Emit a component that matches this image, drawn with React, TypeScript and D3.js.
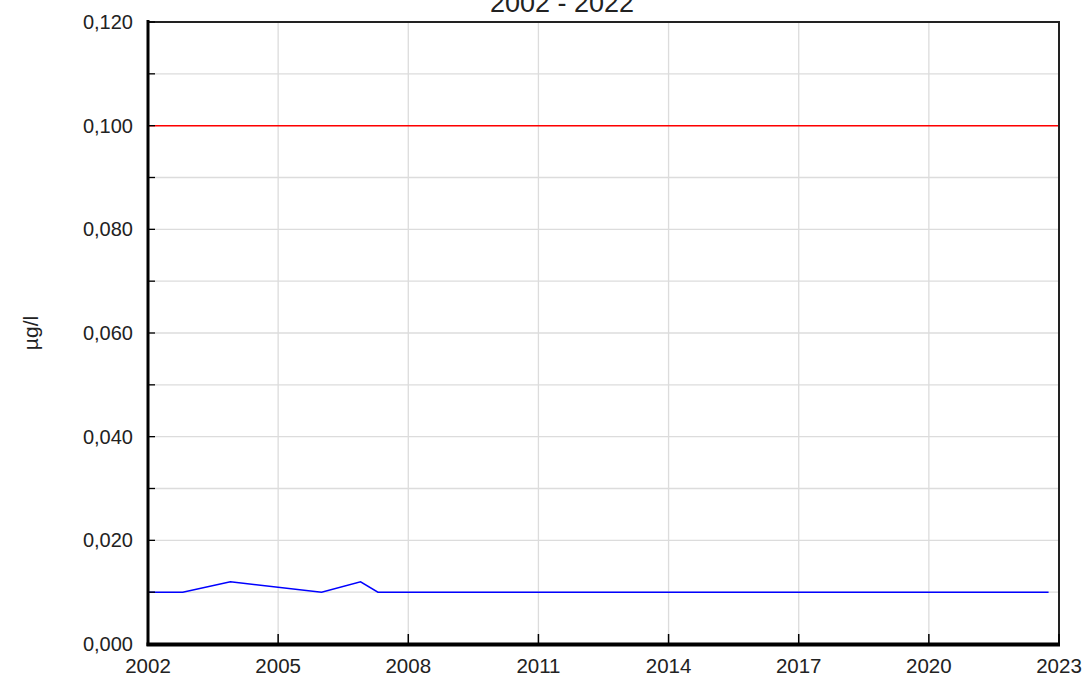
import { useEffect, useRef } from "react";
import * as d3 from "d3";

const years = [2002.0, 2002.8, 2003.9, 2006.0, 2006.9, 2007.3, 2022.76];
const values = [0.01, 0.01, 0.012, 0.01, 0.012, 0.01, 0.01];
const limitValue = 0.1;
const xTicks = [2002, 2005, 2008, 2011, 2014, 2017, 2020, 2023];
const yTicks = [0, 0.02, 0.04, 0.06, 0.08, 0.1, 0.12];
const yMinor = d3.range(0, 0.1201, 0.01);
const title = "2002 - 2022";
const yLabel = "µg/l";

export default function App() {
  const ref = useRef<SVGSVGElement>(null);

  useEffect(() => {
    if (!ref.current) return;
    const width = 1084;
    const height = 678;
    const m = { left: 148, right: 1059, top: 22, bottom: 644 };

    const svg = d3.select(ref.current);
    svg.selectAll("*").remove();

    const x = d3.scaleLinear().domain([2002, 2023]).range([m.left, m.right]);
    const y = d3.scaleLinear().domain([0, 0.12]).range([m.bottom, m.top]);
    const font = "'Liberation Sans', Arial, sans-serif";

    const g = svg.append("g");

    // grid
    g.selectAll("line.hgrid")
      .data(yMinor)
      .enter()
      .append("line")
      .attr("x1", m.left)
      .attr("x2", m.right)
      .attr("y1", (d) => y(d))
      .attr("y2", (d) => y(d))
      .attr("stroke", "#dcdcdc")
      .attr("stroke-width", 1.3);

    g.selectAll("line.vgrid")
      .data(xTicks)
      .enter()
      .append("line")
      .attr("x1", (d) => x(d))
      .attr("x2", (d) => x(d))
      .attr("y1", m.top)
      .attr("y2", m.bottom)
      .attr("stroke", "#dcdcdc")
      .attr("stroke-width", 1.3);

    // limit line
    g.append("line")
      .attr("x1", m.left)
      .attr("x2", m.right)
      .attr("y1", y(limitValue))
      .attr("y2", y(limitValue))
      .attr("stroke", "#ff0000")
      .attr("stroke-width", 1.5);

    // data line
    const line = d3
      .line<number>()
      .x((_, i) => x(years[i]))
      .y((d) => y(d));
    g.append("path")
      .datum(values)
      .attr("d", line)
      .attr("fill", "none")
      .attr("stroke", "#0000ff")
      .attr("stroke-width", 1.5);

    // frame
    g.append("line")
      .attr("x1", m.left)
      .attr("x2", m.right + 1)
      .attr("y1", m.top)
      .attr("y2", m.top)
      .attr("stroke", "#222")
      .attr("stroke-width", 2);
    g.append("line")
      .attr("x1", m.right)
      .attr("x2", m.right)
      .attr("y1", m.top)
      .attr("y2", m.bottom)
      .attr("stroke", "#222")
      .attr("stroke-width", 2);

    // y ticks
    g.selectAll("line.ytick")
      .data(yMinor)
      .enter()
      .append("line")
      .attr("x1", m.left)
      .attr("x2", m.left + 7)
      .attr("y1", (d) => y(d))
      .attr("y2", (d) => y(d))
      .attr("stroke", "#000")
      .attr("stroke-width", 1.3);

    // x ticks
    g.selectAll("line.xtick")
      .data(xTicks)
      .enter()
      .append("line")
      .attr("x1", (d) => x(d))
      .attr("x2", (d) => x(d))
      .attr("y1", m.bottom)
      .attr("y2", m.bottom - 10)
      .attr("stroke", "#000")
      .attr("stroke-width", 1.5);

    // axes lines
    g.append("line")
      .attr("x1", m.left)
      .attr("x2", m.left)
      .attr("y1", m.top - 2)
      .attr("y2", m.bottom + 2)
      .attr("stroke", "#000")
      .attr("stroke-width", 3);
    g.append("line")
      .attr("x1", m.left - 1.5)
      .attr("x2", m.right + 1)
      .attr("y1", m.bottom + 0.5)
      .attr("y2", m.bottom + 0.5)
      .attr("stroke", "#000")
      .attr("stroke-width", 4);

    const fmt = (v: number) => d3.format(".3f")(v).replace(".", ",");

    g.selectAll("text.ylab")
      .data(yTicks)
      .enter()
      .append("text")
      .attr("x", m.left - 15)
      .attr("y", (d) => y(d) + 7)
      .attr("text-anchor", "end")
      .attr("font-family", font)
      .attr("font-size", 20)
      .attr("fill", "#222")
      .text((d) => fmt(d));

    g.selectAll("text.xlab")
      .data(xTicks)
      .enter()
      .append("text")
      .attr("x", (d) => x(d))
      .attr("y", 673)
      .attr("text-anchor", "middle")
      .attr("font-family", font)
      .attr("font-size", 20.5)
      .attr("fill", "#222")
      .text((d) => String(d));

    g.append("text")
      .attr("transform", `translate(38,333) rotate(-90)`)
      .attr("text-anchor", "middle")
      .attr("font-family", font)
      .attr("font-size", 21)
      .attr("fill", "#222")
      .text(yLabel);

    g.append("text")
      .attr("x", 562)
      .attr("y", 12)
      .attr("text-anchor", "middle")
      .attr("font-family", font)
      .attr("font-size", 27)
      .attr("fill", "#222")
      .text(title);

    svg.attr("width", width).attr("height", height);
  }, []);

  return (
    <svg
      ref={ref}
      width={1084}
      height={678}
      style={{ position: "absolute", left: 0, top: 0, background: "#fff" }}
    />
  );
}
